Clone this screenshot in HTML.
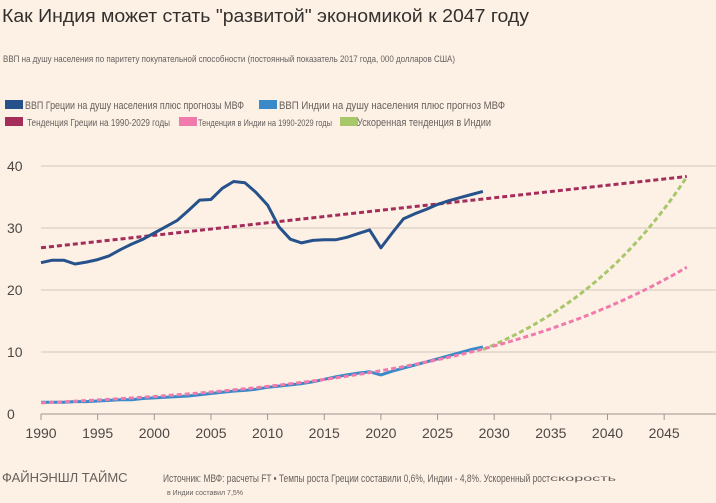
<!DOCTYPE html>
<html><head><meta charset="utf-8"><style>
body{margin:0;background:#fdf1e6;width:716px;height:498px;overflow:hidden;font-family:"Liberation Sans",sans-serif;}
</style></head><body>
<svg id="s" width="716" height="498" xmlns="http://www.w3.org/2000/svg" font-family="Liberation Sans, sans-serif">
<rect width="716" height="498" fill="#fdf1e6"/>
<text x="2" y="22" font-size="18" fill="#33302e" textLength="527" lengthAdjust="spacingAndGlyphs">Как Индия может стать "развитой" экономикой к 2047 году</text>
<text x="3" y="62" font-size="9" fill="#66605c" textLength="452" lengthAdjust="spacingAndGlyphs">ВВП на душу населения по паритету покупательной способности (постоянный показатель 2017 года, 000 долларов США)</text>
<rect x="5" y="100" width="18" height="9" fill="#26518a"/>
<text x="25" y="109" font-size="11" fill="#66605c" textLength="219" lengthAdjust="spacingAndGlyphs">ВВП Греции на душу населения плюс прогнозы МВФ</text>
<rect x="259" y="100" width="18" height="9" fill="#3a8ac9"/>
<text x="279" y="109" font-size="11" fill="#66605c" textLength="226" lengthAdjust="spacingAndGlyphs">ВВП Индии на душу населения плюс прогноз МВФ</text>
<rect x="5" y="117" width="18" height="9" fill="#a42d5a"/>
<text x="27" y="126" font-size="10" fill="#66605c" textLength="143" lengthAdjust="spacingAndGlyphs">Тенденция Греции на 1990-2029 годы</text>
<rect x="179" y="117" width="18" height="9" fill="#ef7aab"/>
<text x="198" y="126" font-size="9" fill="#66605c" textLength="134" lengthAdjust="spacingAndGlyphs">Тенденция в Индии на 1990-2029 годы</text>
<rect x="340" y="117" width="18" height="9" fill="#a8c66a"/>
<text x="357" y="126" font-size="11" fill="#66605c" textLength="134" lengthAdjust="spacingAndGlyphs">Ускоренная тенденция в Индии</text>
<g id="grid" stroke="#d4c8bc" stroke-width="1"></g>
<g id="lab" font-size="14" fill="#4d4845"></g>
<g id="ser" fill="none"></g>
<text x="2" y="482" font-size="13" fill="#66605c">ФАЙНЭНШЛ ТАЙМС</text>
<text x="163" y="482" font-size="11" fill="#66605c" textLength="387" lengthAdjust="spacingAndGlyphs">Источник: МВФ: расчеты FT • Темпы роста Греции составили 0,6%, Индии - 4,8%. Ускоренный рост</text>
<text x="550" y="481" font-size="8" fill="#66605c" textLength="66" lengthAdjust="spacingAndGlyphs">скорость</text>
<text x="167" y="495" font-size="7" fill="#66605c">в Индии составил 7,5%</text>
</svg>
<script>
var X=function(t){return 41+(t-1990)*11.33},Y=function(v){return 414-v*6.2};
var NS="http://www.w3.org/2000/svg";
function el(p,n,a,txt){var e=document.createElementNS(NS,n);for(var k in a)e.setAttribute(k,a[k]);if(txt!=null)e.textContent=txt;document.getElementById(p).appendChild(e);return e;}
for(var v=10;v<=40;v+=10)el("grid","line",{x1:41,x2:716,y1:Y(v),y2:Y(v)});
el("grid","line",{x1:41,x2:716,y1:414,y2:414,stroke:"#9e9590"});
for(var v=0;v<=40;v+=10)el("lab","text",{x:7,y:Y(v)+5},v);
for(var t=1990;t<=2045;t+=5){el("grid","line",{x1:X(t),x2:X(t),y1:414,y2:420,stroke:"#9e9590"});el("lab","text",{x:X(t),y:438,"text-anchor":"middle"},t);}
function path(pts){return pts.map(function(p,i){return(i?"L":"M")+X(p[0]).toFixed(1)+","+Y(p[1]).toFixed(1)}).join("");}
var g=[24.4,24.8,24.8,24.2,24.5,24.9,25.5,26.5,27.4,28.2,29.2,30.2,31.2,32.8,34.5,34.6,36.4,37.5,37.3,35.7,33.7,30.2,28.2,27.6,28.0,28.1,28.1,28.5,29.1,29.7,26.8,29.2,31.5,32.3,33.0,33.8,34.4,34.9,35.4,35.9];
var ind=[1.9,1.9,1.9,2.0,2.0,2.1,2.2,2.3,2.3,2.5,2.6,2.7,2.8,2.9,3.1,3.3,3.5,3.7,3.8,4.0,4.3,4.5,4.7,4.9,5.2,5.6,6.0,6.3,6.6,6.8,6.3,6.9,7.4,7.9,8.4,8.9,9.4,9.9,10.4,10.8];
var it=[];for(var t=1990;t<=2047;t+=0.5)it.push([t,1.8*Math.exp(0.0452*(t-1990))]);
var ac=[];for(var t=2029;t<=2047;t+=0.5)ac.push([t,10.4*Math.pow(1.075,t-2029)]);
el("ser","path",{d:path(ac),stroke:"#a8c66a","stroke-width":3,"stroke-dasharray":"5,3"});
el("ser","path",{d:path(ind.map(function(v,i){return[1990+i,v]})),stroke:"#3a8ac9","stroke-width":3});
el("ser","path",{d:path(it),stroke:"#ef7aab","stroke-width":3,"stroke-dasharray":"5,3"});
el("ser","path",{d:path([[1990,26.8],[2047,38.3]]),stroke:"#a42d5a","stroke-width":3,"stroke-dasharray":"5,3"});
el("ser","path",{d:path(g.map(function(v,i){return[1990+i,v]})),stroke:"#26518a","stroke-width":3,"stroke-linejoin":"round"});
</script>
</body></html>
